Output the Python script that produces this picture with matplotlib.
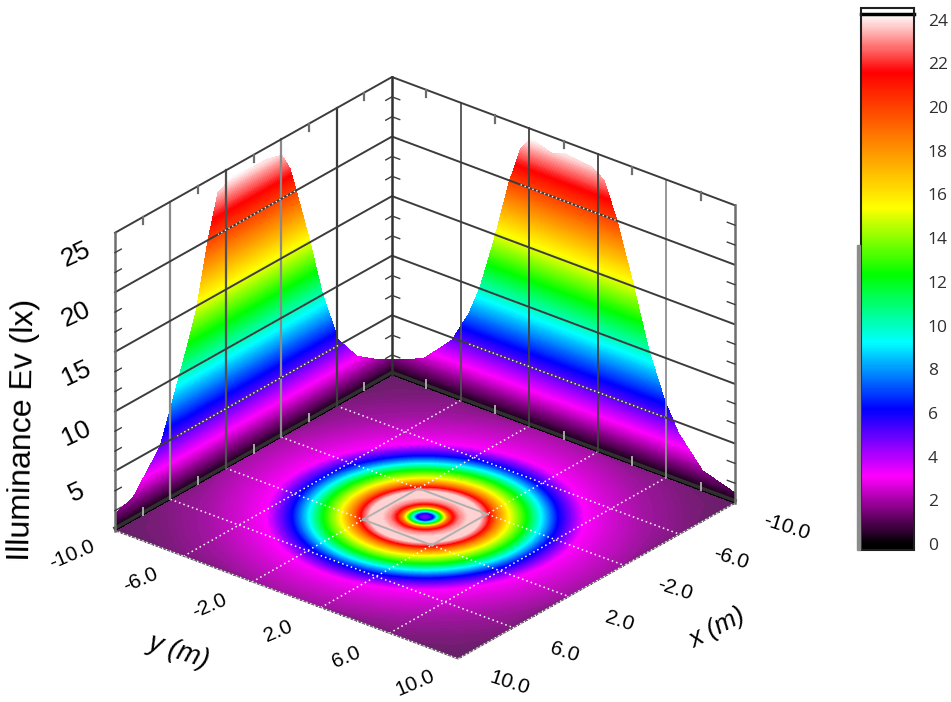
import numpy as np
import matplotlib
matplotlib.use("Agg")
import matplotlib.pyplot as plt
from matplotlib.cm import ScalarMappable
from matplotlib.colors import LinearSegmentedColormap, Normalize
from matplotlib.patches import Rectangle
from mpl_toolkits.mplot3d import proj3d

#------------- values -------------#

# floor map: illuminance against distance from the centre
ring_r = [0, 0.2, 0.4, 0.55, 0.75, 0.9, 1.05, 1.3, 1.6, 2.0, 2.5, 2.83, 3.2, 3.8,
          4.6, 5.25, 6.0, 7.2, 8.5, 10, 12, 14.2]
ring_ev = [4.6, 4.9, 6.2, 9.2, 12.3, 15.4, 18.5, 21.6, 23.0, 23.8, 23.7, 22, 19, 15.4,
           12.3, 9.2, 6.2, 3.1, 2.3, 1.6, 1.0, 0.7]

# outline on the wall y = -10
wall_x = [-10, -8.9, -7.47, -6.1, -4.95, -4.08, -3.0, -2.64, -2.06, -1.0, 0.0, 1.48, 2.56,
          3.28, 4.08, 4.8, 5.5, 6.75, 8.7, 10]
wall_x_ev = [1.3, 2.0, 3.2, 5.5, 10.2, 15, 20.4, 22.1, 23.6, 24, 24, 24.2, 23.5,
             20, 14.9, 12, 9.4, 4.9, 1.9, 1.4]

# outline on the wall x = -10
wall_y = [-10, -9.0, -8.08, -6.5, -5.5, -4.87, -4.05, -3.18, -2.5, -1.9, -0.67, 0.0, 1.66,
          2.36, 3.1, 4.0, 4.98, 5.9, 6.7, 8.1, 10]
wall_y_ev = [1.3, 1.8, 2.45, 4.8, 7.6, 10.1, 14.5, 19.8, 23, 24.2, 23.6, 24, 23.7,
             23, 20.1, 15.5, 10.1, 6.4, 4.1, 1.7, 0.84]

# colour scale stops
scale_values = [-0.25, 0, 3.08, 6.16, 9.24, 12.32, 15.4, 18.5, 21.6, 24.26]
scale_colors = ["#000000", "#000000", "#ff00ff", "#0000ff", "#00ffff", "#00ff00",
                "#ffff00", "#ff8000", "#ff0000", "#ffffff"]
floor_colors = ["#3c283c", "#3c283c"] + scale_colors[2:]

xy_ticks = [-10, -6, -2, 2, 6, 10]
xy_minor = [-8, -4, 0, 4, 8]
z_ticks = [5, 10, 15, 20, 25]
z_minor = [5 * i / 3 for i in range(1, 15) if i % 3 != 0]
scale_ticks = list(range(0, 25, 2))

#------------- colours -------------#

norm = Normalize(scale_values[0], scale_values[-1])
stops = [norm(v) for v in scale_values]
wall_cmap = LinearSegmentedColormap.from_list("wall", list(zip(stops, scale_colors)), N=512)
wall_cmap.set_over("white")
floor_cmap = LinearSegmentedColormap.from_list("floor", list(zip(stops, floor_colors)), N=512)
levels = np.linspace(0, 24.6, 247)

#------------- figure and 3D axes -------------#

W, H = 951, 702
fig = plt.figure(figsize=(W / 100, H / 100), dpi=100)
plt.rcParams["font.family"] = ["Liberation Sans", "DejaVu Sans"]

ax = fig.add_axes([0.5 - 450 / W, 0.5 - 450 / H, 900 / W, 900 / H],
                  projection="3d", computed_zorder=False)
ax.set_proj_type("ortho")
ax.view_init(elev=27.3, azim=39.2)
ax.set_axis_off()


def to_px(x, y, z):
    xp, yp, _ = proj3d.proj_transform(x, y, z, ax.get_proj())
    return ax.transData.transform((xp, yp))


def label(x, y, z, s, **kw):
    # Text3D ignores rotation, so the text goes on the figure at the projected point
    px, py = to_px(x, y, z)
    fig.text(px / W, py / H, s, ha="center", va="center", rotation_mode="anchor", **kw)


#------------- floor -------------#

theta = np.linspace(0, 2 * np.pi, 361)
rr, tt = np.meshgrid(ring_r, theta)
floor_x = np.clip(rr * np.cos(tt), -10, 10)
floor_y = np.clip(rr * np.sin(tt), -10, 10)
floor_ev = np.tile(ring_ev, (len(theta), 1))
ax.contourf(floor_x, floor_y, floor_ev, levels=levels, cmap=floor_cmap, norm=norm,
            zdir="z", offset=0, antialiased=False, zorder=1)

#------------- walls, coloured by height -------------#

xw = np.array([wall_x, wall_x], dtype=float)
zw = np.array([np.zeros(len(wall_x)), wall_x_ev])
ax.contourf(xw, zw, zw, levels=levels, cmap=wall_cmap, norm=norm,
            zdir="y", offset=-10, antialiased=False, zorder=2)

yw = np.array([wall_y, wall_y], dtype=float)
zw = np.array([np.zeros(len(wall_y)), wall_y_ev])
ax.contourf(zw, yw, zw, levels=levels, cmap=wall_cmap, norm=norm,
            zdir="x", offset=-10, antialiased=False, zorder=2)

ax.set_xlim(-10, 10)
ax.set_ylim(-10, 10)
ax.set_zlim(0, 25)

#------------- grid and box -------------#

dark = "#3c3c3c"
grey = "#6e6e6e"
dots = (0, (1, 2))

# dark seam where the walls meet the floor
ax.plot([10, -10, -10], [-10, -10, 10], [0.2, 0.2, 0.2], color="#303030", lw=2.5, zorder=3)

left_colors = {-6: dark, -2: "#8a8a8a", 2: "#505050", 6: "#8a8a8a"}
right_colors = {-6: "#505050", -2: "#404040", 2: "#404040", 6: "#909090"}
for t in xy_ticks[1:-1]:
    # floor
    ax.plot([t, t], [-10, 10], [0, 0], color="white", lw=1.1, ls=dots, zorder=3)
    ax.plot([-10, 10], [t, t], [0, 0], color="white", lw=1.1, ls=dots, zorder=3)
    # walls
    ax.plot([t, t], [-10, -10], [0, 25], color=left_colors[t], lw=1.6, zorder=4)
    ax.plot([-10, -10], [t, t], [0, 25], color=right_colors[t], lw=1.3, zorder=4)

# the two lines round the centre look grey, not white
for t in (-2, 2):
    ax.plot([t, t], [-2, 2], [0, 0], color="#b0b0b0", lw=1.4, zorder=3)
    ax.plot([-2, 2], [t, t], [0, 0], color="#b0b0b0", lw=1.4, zorder=3)

# front edges of the floor
ax.plot([10, 10, -10], [-10, 10, 10], [0, 0, 0], color="#707070", lw=1, zorder=3)
ax.plot([10, 10, -10], [-10, 10, 10], [0, 0, 0], color="white", lw=1, ls=dots, zorder=3)

for z in z_ticks:
    ax.plot([10, -10, -10], [-10, -10, 10], [z, z, z], color=dark, lw=1.4, zorder=4)

# z = 5 and z = 20 look dotted where they cross the coloured part
for z in (5, 20):
    xs = np.array(wall_x)[np.array(wall_x_ev) > z]
    ys = np.array(wall_y)[np.array(wall_y_ev) > z]
    ax.plot([xs[0], xs[-1]], [-10, -10], [z, z], color="white", lw=1, ls=dots, zorder=5)
    ax.plot([-10, -10], [ys[0], ys[-1]], [z, z], color="white", lw=1, ls=dots, zorder=5)

# box edges
ax.plot([10, 10], [-10, -10], [0, 25], color=grey, lw=1.8, zorder=5)
ax.plot([-10, -10], [-10, -10], [0, 25], color="#303030", lw=1.8, zorder=5)
ax.plot([-10, -10], [10, 10], [0, 25], color=grey, lw=1.8, zorder=5)

# ticks
tl = 0.45
for z in z_minor:
    ax.plot([10, 10 - tl], [-10, -10], [z, z], color=dark, lw=1, zorder=5)
    ax.plot([-10 + tl, -10], [-10, -10], [z, z], color=dark, lw=1, zorder=5)
    ax.plot([-10, -10], [-10, -10 + tl], [z, z], color=dark, lw=1, zorder=5)
    ax.plot([-10, -10], [10, 10 - tl], [z, z], color=dark, lw=1, zorder=5)

for t in xy_minor:
    ax.plot([t, t], [-10, -10], [25, 24.4], color=grey, lw=1.6, zorder=5)
    ax.plot([-10, -10], [t, t], [25, 24.4], color=grey, lw=1.6, zorder=5)
    ax.plot([t, t], [-10, -10], [0, 0.6], color="#a8a8a8", lw=1.4, zorder=5)
    ax.plot([-10, -10], [t, t], [0, 0.6], color="#a8a8a8", lw=1.4, zorder=5)

#------------- line the box up with the picture -------------#

aspect = (0.99, 1, 0.757)
ax.set_box_aspect(aspect)
ax.apply_aspect()
span = to_px(-10, 10, 0)[0] - to_px(10, -10, 0)[0]
ax.set_box_aspect(aspect, zoom=620 / span)
back = to_px(-10, -10, 25)
pos = ax.get_position()
ax.set_position([pos.x0 + (392 - back[0]) / W, pos.y0 + (H - 77 - back[1]) / H, pos.width, pos.height])
ax.apply_aspect()

#------------- tick labels and titles -------------#

for t in xy_ticks:
    label(13.1, t, 0, f"{t:.1f}", fontsize=15, rotation=23)
    label(t + 0.4, 13.3, 0, f"{t:.1f}", fontsize=15, rotation=-18)

for z in z_ticks:
    label(12.8, -10, z, str(z), fontsize=19, rotation=25)

label(17.5, -0.25, 0, "y (m)", fontsize=20, style="italic", rotation=-18)
label(0.2, 17.2, 0, "x (m)", fontsize=19, style="italic", rotation=28)
label(16.6, -10, 12.8, "Illuminance Ev (lx)", fontsize=23, rotation=89)

#------------- colour scale -------------#

fig.add_artist(Rectangle((857 / W, 1 - 550 / H), 3 / W, 305 / H, color="#8c8c8c",
                         transform=fig.transFigure))

cax = fig.add_axes([861 / W, 1 - 549.5 / H, 53 / W, 541.5 / H])
sm = ScalarMappable(norm=norm, cmap=wall_cmap)
cbar = fig.colorbar(sm, cax=cax, extend="max", extendrect=True, extendfrac=6 / 535, ticks=scale_ticks)
cbar.outline.set_linewidth(1.5)
cbar.outline.set_edgecolor("#202020")
cbar.ax.axhline(scale_values[-1], color="black", lw=2.5, clip_on=False)
cbar.ax.tick_params(length=0, pad=10, labelsize=12.5, labelcolor="#303030")
for lab in cbar.ax.get_yticklabels():
    lab.set_family(["Open Sans", "DejaVu Sans"])

fig.savefig("out.png", dpi=100)
